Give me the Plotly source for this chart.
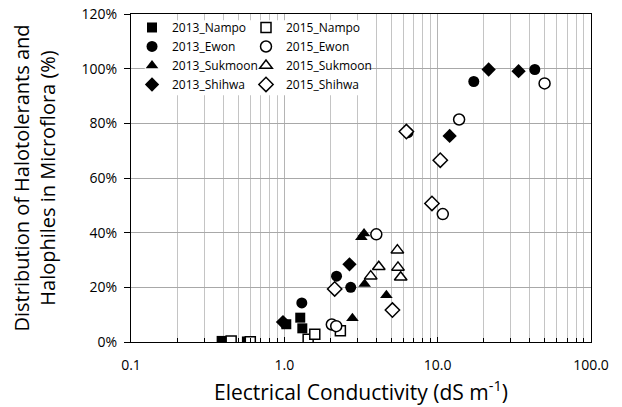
import plotly.graph_objects as go

# ---- data (EC in dS/m, percent) ----
nampo13_x = [0.39, 0.57, 1.03, 1.27, 1.31]
nampo13_y = [0.4, 0.2, 6.5, 8.9, 5.0]
nampo15_x = [0.45, 0.60, 1.43, 1.58, 2.32]
nampo15_y = [0.4, 0.1, 1.0, 2.8, 4.1]
ewon13_x = [1.30, 2.19, 2.71, 6.4, 17.2, 43.0]
ewon13_y = [14.3, 24.1, 20.0, 76.6, 95.3, 99.7]
ewon15_x = [2.04, 2.18, 3.98, 10.8, 13.8, 49.8]
ewon15_y = [6.4, 5.8, 39.4, 46.8, 81.4, 94.6]
suk13_x = [2.78, 3.18, 3.31, 3.34, 4.63]
suk13_y = [8.7, 38.3, 39.7, 21.2, 17.1]
suk15_x = [3.66, 4.13, 5.46, 5.51, 5.74]
suk15_y = [24.1, 27.5, 33.6, 27.3, 23.7]
shi13_x = [0.98, 2.66, 11.97, 21.5, 33.7]
shi13_y = [7.3, 28.4, 75.4, 99.7, 99.1]
shi15_x = [2.13, 5.07, 6.25, 9.18, 10.4]
shi15_y = [19.4, 11.7, 77.0, 50.7, 66.5]

x_tickvals = [0.1, 1, 10, 100]
x_ticktext = ["0.1", "1.0", "10.0", "100.0"]
y_tickvals = [0, 20, 40, 60, 80, 100, 120]
y_ticktext = ["0%", "20%", "40%", "60%", "80%", "100%", "120%"]

FONT = "Open Sans"

series = [
    ("2013_Nampo", nampo13_x, nampo13_y, "square", True, 10, "legend"),
    ("2013_Ewon", ewon13_x, ewon13_y, "circle", True, 11, "legend"),
    ("2013_Sukmoon", suk13_x, suk13_y, "triangle-up", True, 11, "legend"),
    ("2013_Shihwa", shi13_x, shi13_y, "diamond", True, 11, "legend"),
    ("2015_Nampo", nampo15_x, nampo15_y, "square", False, 10, "legend2"),
    ("2015_Ewon", ewon15_x, ewon15_y, "circle", False, 11, "legend2"),
    ("2015_Sukmoon", suk15_x, suk15_y, "triangle-up", False, 11, "legend2"),
    ("2015_Shihwa", shi15_x, shi15_y, "diamond", False, 11, "legend2"),
]

fig = go.Figure()
for name, xs, ys, sym, filled, sz, lname in series:
    fig.add_trace(go.Scatter(
        x=xs, y=ys, mode="markers", name=name, legend=lname,
        marker=dict(symbol=sym, size=sz,
                    color="black" if filled else "white",
                    line=dict(color="black", width=0 if filled else 1.5)),
    ))

# white patch behind the legend (hides gridlines, like the original)
fig.add_shape(type="rect", xref="x", yref="y",
              x0=0.123, x1=3.25, y0=90.3, y1=117.7,
              fillcolor="white", line=dict(width=0), layer="between")

legend_common = dict(yanchor="middle", xanchor="left", y=0.872,
                     bgcolor="rgba(0,0,0,0)", borderwidth=0, itemwidth=30,
                     font=dict(family=FONT, size=12, color="black"))

fig.update_layout(
    width=622, height=407,
    margin=dict(l=131, r=31, t=14, b=65),
    paper_bgcolor="white", plot_bgcolor="white",
    font=dict(family=FONT, size=14, color="black"),
    showlegend=True,
    legend=dict(x=0.0022, **legend_common),
    legend2=dict(x=0.2500, **legend_common),
)

fig.update_xaxes(
    type="log", range=[-1, 2], automargin=False,
    tickvals=x_tickvals, ticktext=x_ticktext,
    ticks="inside", ticklen=5, tickcolor="black",
    ticklabelstandoff=10,
    showgrid=True, gridcolor="#b4b4b4", gridwidth=1,
    minor=dict(dtick="D1", showgrid=True, gridcolor="#c4c4c4", ticks="inside",
               ticklen=4, tickcolor="black"),
    showline=True, linecolor="black", linewidth=1, mirror=True,
    tickfont=dict(family=FONT, size=14),
    title=dict(text="Electrical Conductivity (dS m<sup>-1</sup>)",
               font=dict(family=FONT, size=21), standoff=12),
)
fig.update_yaxes(
    range=[0, 120], tickvals=y_tickvals, ticktext=y_ticktext, automargin=False,
    ticks="outside", ticklen=6, tickcolor="black", ticklabelstandoff=4,
    showgrid=True, gridcolor="#a8a8a8", gridwidth=1,
    zeroline=False,
    showline=True, linecolor="black", linewidth=1, mirror=True,
    tickfont=dict(family=FONT, size=14),
    title=dict(text="Distribution of Halotolerants and<br>Halophiles in Microflora (%)",
               font=dict(family=FONT, size=20), standoff=20),
)

fig.write_html("out.html")
